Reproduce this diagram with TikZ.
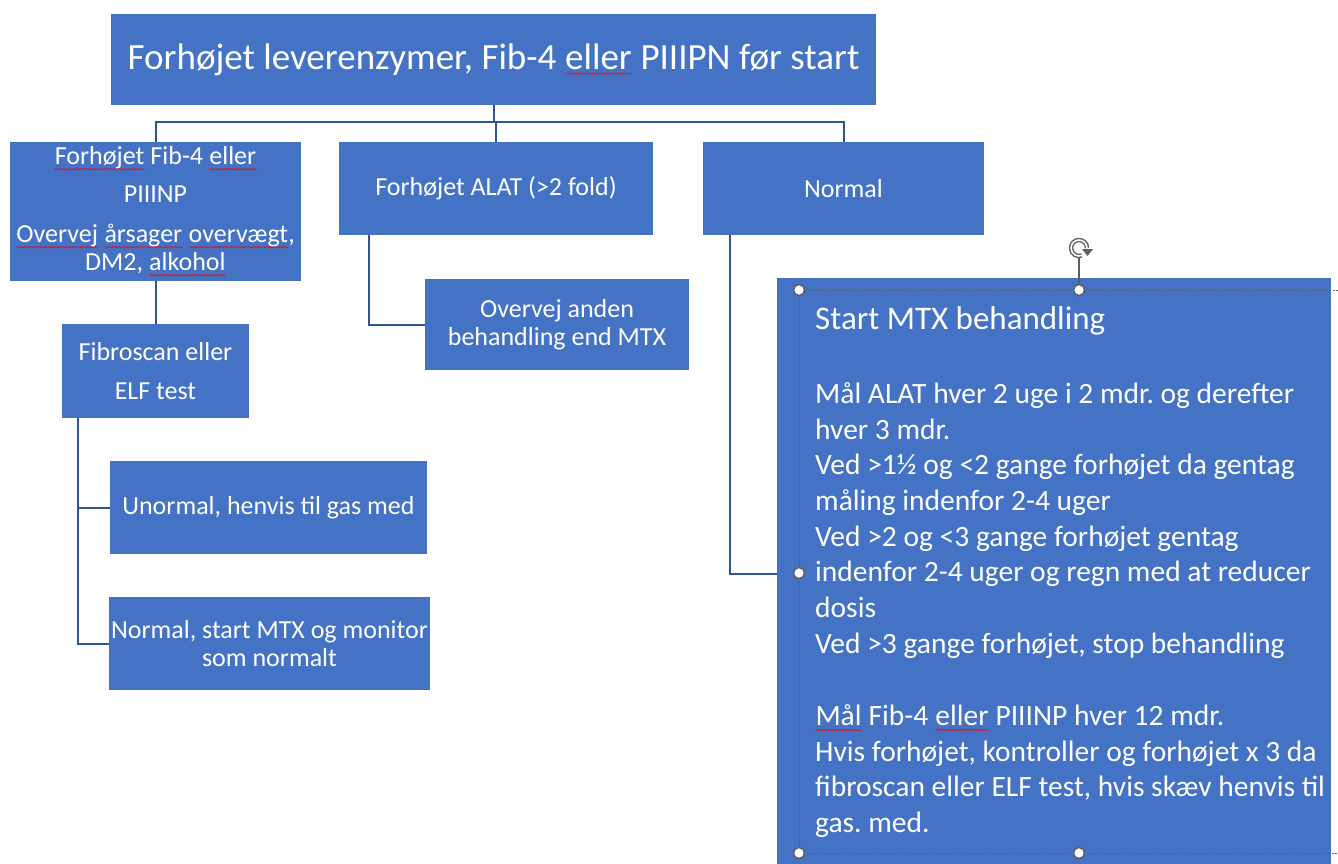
\documentclass[tikz,border=0pt]{standalone}
\usepackage{fontspec}
\setmainfont{Carlito}
\usetikzlibrary{decorations.pathmorphing}
\frenchspacing

\definecolor{boxblue}{HTML}{4472C4}
\definecolor{lineblue}{HTML}{2F5597}
\definecolor{handlegray}{HTML}{5E5E5E}

\tikzset{
    spellword/.style={minimum width=0pt, minimum height=0pt, inner sep=0pt, outer sep=0pt, fill=none, draw=none, text=white, align=none},
    spellline/.style={draw=red, line width=0.6pt, decorate, decoration={snake, amplitude=0.8pt, segment length=3.5pt}}
}
\newcommand\spellwave[1]{\tikz[baseline=(w.base), x=1pt, y=1pt]{\node[spellword] (w) {#1};
        \draw[spellline] ([yshift=-4.5pt]w.base west) -- ([yshift=-4.5pt]w.base east);}}

\begin{document}
\begin{tikzpicture}[x=1pt, y=-1pt,
        box/.style={fill=boxblue, text=white, inner sep=2pt, align=center, font=\fontsize{26}{28}\selectfont},
        link/.style={draw=lineblue, line width=2pt},
        handle/.style={circle, draw=handlegray, fill=white, line width=1.4pt, minimum size=11pt, inner sep=0pt}]
        \useasboundingbox (0,0) rectangle (1338,863);
        % boxes
        \node[box, minimum width=765, minimum height=91, font=\fontsize{37}{42}\selectfont] (top) at (493.5,59.5) {Forhøjet leverenzymer, Fib-4 \spellwave{eller} PIIIPN før start};
        \node[box, minimum width=291, minimum height=139] (fib) at (155.5,211.5) {\spellwave{Forhøjet} Fib-4 \spellwave{eller}\\[10pt] PIIINP\\[12pt] \spellwave{Overvej} \spellwave{årsager} \spellwave{overvægt},\\ DM2, \spellwave{alkohol}};
        \node[box, minimum width=314, minimum height=93] (alat) at (496,188.5) {Forhøjet ALAT (>2 fold)};
        \node[box, minimum width=281, minimum height=93] (normal) at (843.5,188.5) {Normal};
        \node[box, minimum width=187, minimum height=94] (scan) at (155.5,371) {Fibroscan eller\\[11pt] ELF test};
        \node[box, minimum width=264, minimum height=91] (other) at (557,324.5) {Overvej anden\\ behandling end MTX};
        \node[box, minimum width=317, minimum height=93] (abn) at (268.5,507.5) {Unormal, henvis til gas med};
        \node[box, minimum width=319, minimum height=93] (norm) at (269.5,643.5) {Normal, start MTX og monitor\\ som normalt};
        \node[fill=boxblue, minimum width=554, minimum height=592, inner sep=0pt] (mtx) at (1054,574) {};
        \node[anchor=north west, inner sep=0pt, text=white, align=left, font=\fontsize{29.5}{35.7}\selectfont] (mtxtext) at (815,306) {{\fontsize{33}{35.7}\selectfont Start MTX behandling}\\[38.5pt]
        Mål ALAT hver 2 uge i 2 mdr. og derefter\\
        hver 3 mdr.\\
        Ved >1½ og <2 gange forhøjet da gentag\\
        måling indenfor 2-4 uger\\
        Ved >2 og <3 gange forhøjet gentag\\
        indenfor 2-4 uger og regn med at reducer\\
        dosis\\
        Ved >3 gange forhøjet, stop behandling\\[36.5pt]
        \spellwave{Mål} Fib-4 \spellwave{eller} PIIINP hver 12 mdr.\\
        Hvis forhøjet, kontroller og forhøjet x 3 da\\
        fibroscan eller ELF test, hvis skæv henvis til\\
        gas. med.};
        % connectors
        \draw[link] (top.south) -- ++(0,17) coordinate (split);
        \draw[link] (fib.north) |- (split) -| (normal.north);
        \draw[link] (alat.north) -- (alat.north |- split);
        \draw[link] (fib.south) -- (scan.north);
        \draw[link] ([xshift=30pt]alat.south west) |- (other.west);
        \draw[link] ([xshift=27pt]normal.south west) |- (mtx.west);
        \draw[link] ([xshift=16pt]scan.south west) |- (abn.west);
        \draw[link] ([xshift=16pt]scan.south west) |- (norm.west);
        % selection frame
        \draw[handlegray, line width=1pt, dash pattern=on 2pt off 1.5pt] (1338,290) -- (799,290) -- (799,853) -- (1338,853);
        \node[handle] (h1) at (799,290) {};
        \node[handle] (h2) at (1079,290) {};
        \node[handle] (h3) at (799,573) {};
        \node[handle] (h4) at (799,853) {};
        \node[handle] (h5) at (1079,853) {};
        \coordinate (rot) at (1079,248);
        \draw[handlegray, line width=1.2pt] (h2) -- ([yshift=-9pt]rot);
        \draw[handlegray, line width=4.4pt] ([shift={(8,0)}]rot) arc[start angle=0, end angle=-290, radius=8];
        \draw[white, line width=1.6pt] ([shift={(8,0)}]rot) arc[start angle=0, end angle=-290, radius=8];
        \fill[handlegray] (1082,249) -- (1093,249) -- (1087.5,256) -- cycle;
\end{tikzpicture}
\end{document}
